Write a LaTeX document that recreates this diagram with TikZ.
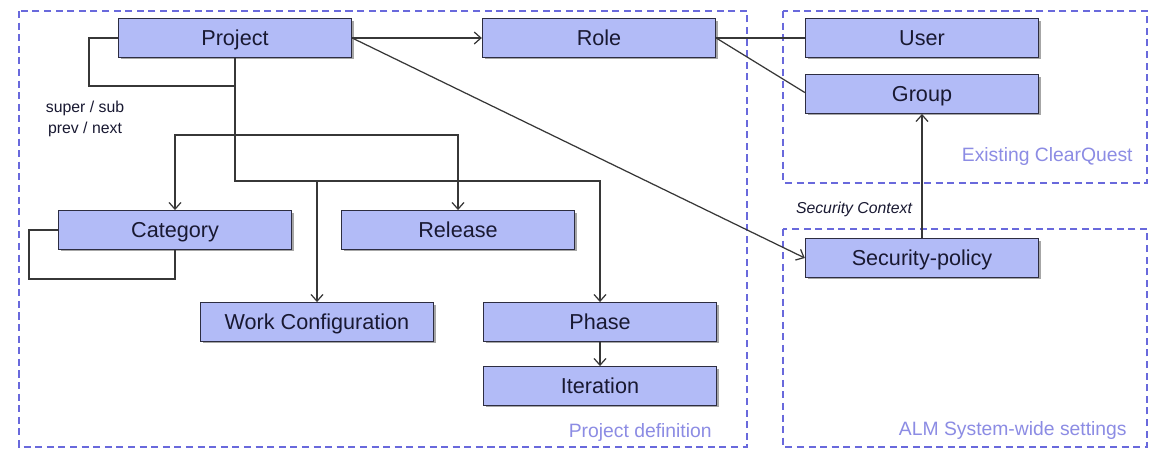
\documentclass[tikz,border=0pt]{standalone}
\usepackage{fontspec}
\setmainfont{Liberation Sans}
\usetikzlibrary{arrows.meta,shadows}
\definecolor{boxfill}{RGB}{178,187,247}
\definecolor{boxline}{RGB}{45,45,65}
\definecolor{boxtext}{RGB}{25,25,50}
\definecolor{regline}{RGB}{105,105,220}
\definecolor{regtext}{RGB}{140,140,228}
\definecolor{conn}{RGB}{55,55,55}
\tikzset{
  entity/.style={draw=boxline, fill=boxfill, line width=0.8pt, inner sep=0pt,
    minimum width=4.66cm, minimum height=0.77cm, text=boxtext,
    text height=1.8ex, text depth=0.2ex,
    font=\fontsize{12.3}{14}\selectfont,
    drop shadow={shadow xshift=1.2pt, shadow yshift=-1.2pt, opacity=0.35, fill=black}},
  link/.style={draw=conn, line width=0.7pt},
  arr/.style={link, -{Straight Barb[length=3.8pt,width=6.8pt,line width=0.7pt]}},
  region/.style={draw=regline, line width=0.7pt, dash pattern=on 4pt off 2.6pt},
  regionlabel/.style={text=regtext, font=\fontsize{11}{13}\selectfont, anchor=east, inner sep=0pt},
  note/.style={text=boxtext, font=\fontsize{9}{10.5}\selectfont, inner sep=0pt}
}
\begin{document}
\begin{tikzpicture}[x=0.02cm, y=-0.02cm]
\useasboundingbox (0,0) rectangle (1150,450);
\fill[white] (0,0) rectangle (1150,450);
% regions
\draw[region] (19,11) rectangle (747,447);
\draw[region] (783,11) rectangle (1147,183);
\draw[region] (783,229) rectangle (1147,447);
\node[regionlabel] (lblpd) at (712,432) {Project definition};
\node[regionlabel] (lblcq) at (1133,157) {Existing ClearQuest};
\node[regionlabel] (lblalm) at (1127,430) {ALM System-wide settings};
% entities
\node[entity] (project) at (235,38) {Project};
\node[entity] (role) at (599,38) {Role};
\node[entity] (user) at (922,38) {User};
\node[entity] (group) at (922,94) {Group};
\node[entity] (secpol) at (922,258) {Security-policy};
\node[entity] (cat) at (175,230) {Category};
\node[entity] (rel) at (458,230) {Release};
\node[entity] (wc) at (317,322) {Work Configuration};
\node[entity] (phase) at (600,322) {Phase};
\node[entity] (iter) at (600,386) {Iteration};
% labels
\node[note, align=center] (supsub) at (85,119) {super / sub\\[1pt]prev / next};
\node[note, font=\fontsize{9}{10.5}\selectfont\itshape] (secctx) at (854,209) {Security Context};
% coordinates
\coordinate (pl) at (89,86);
\coordinate (pt) at (235,86);
\coordinate (j1) at (235,135);
\coordinate (j2) at (235,181);
\coordinate (cl) at (29,279);
% connectors
\draw[arr] (project.east) -- (role.west);
\draw[link] (role.east) -- (user.west);
\draw[link] (role.east) -- ([yshift=0.03cm]group.west);
\draw[arr] (project.east) -- (secpol.west);
\draw[arr] (secpol.north) -- (group.south);
\draw[link] (project.west) -| (pl) -- (pt);
\draw[arr] (project.south) -- (j2) -| (phase.north);
\draw[arr] (j1) -| (cat.north);
\draw[arr] (j1) -| (rel.north);
\draw[arr] (wc.north |- j2) -- (wc.north);
\draw[link] (cat.west) -| (cl) -| (cat.south);
\draw[arr] (phase.south) -- (iter.north);
\end{tikzpicture}
\end{document}
